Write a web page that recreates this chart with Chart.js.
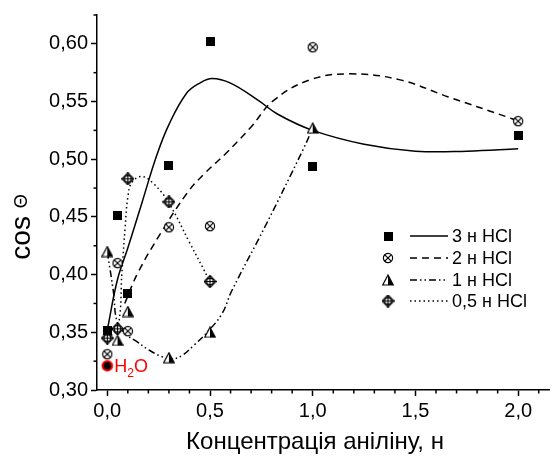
<!DOCTYPE html>
<html>
<head>
<meta charset="utf-8">
<script src="https://cdn.jsdelivr.net/npm/chart.js@4"></script>
<style>
  html, body { margin: 0; padding: 0; background: #fff; }
</style>
</head>
<body>
<canvas id="chart" width="556" height="462"></canvas>
<script>
// measured points
const xConc = [0, 0.05, 0.1, 0.3, 0.5, 1.0, 2.0];
const hcl3 = [0.352, 0.451, 0.384, 0.495, 0.602, 0.494, 0.521];
const hcl2 = [0.331, 0.410, 0.351, 0.441, 0.442, 0.597, 0.533];
const xConc1 = [0, 0.05, 0.1, 0.3, 0.5, 1.0];
const hcl1 = [0.420, 0.343, 0.368, 0.328, 0.350, 0.527];
const xConc05 = [0, 0.05, 0.1, 0.3, 0.5];
const hcl05 = [0.345, 0.353, 0.483, 0.463, 0.394];
const waterX = [0];
const waterY = [0.321];

// fitted curves
const fit3x = [0, 0.05, 0.1, 0.17, 0.24, 0.3, 0.385, 0.45, 0.51, 0.6, 0.735, 0.83, 1.0, 1.25, 1.5, 1.75, 2.0];
const fit3y = [0.352, 0.396, 0.423, 0.463, 0.503, 0.530, 0.557, 0.566, 0.570, 0.566, 0.551, 0.539, 0.525, 0.513, 0.507, 0.507, 0.509];
const fit2x = [0.085, 0.15, 0.264, 0.39, 0.47, 0.577, 0.70, 0.81, 0.99, 1.18, 1.42, 1.66, 1.94, 2.0];
const fit2y = [0.375, 0.402, 0.437, 0.471, 0.487, 0.505, 0.528, 0.551, 0.569, 0.574, 0.569, 0.554, 0.537, 0.533];
const fit1x = [0, 0.03, 0.05, 0.1, 0.135, 0.2, 0.264, 0.317, 0.365, 0.423, 0.486, 0.558, 0.606, 0.769, 0.952, 1.0];
const fit1y = [0.420, 0.385, 0.358, 0.347, 0.343, 0.335, 0.329, 0.327, 0.330, 0.339, 0.350, 0.366, 0.386, 0.442, 0.508, 0.527];
const fit05x = [0, 0.05, 0.072, 0.087, 0.1, 0.12, 0.17, 0.23, 0.3, 0.4, 0.5];
const fit05y = [0.345, 0.353, 0.404, 0.441, 0.467, 0.480, 0.485, 0.478, 0.462, 0.428, 0.394];

const labels = ['3 н HCl', '2 н HCl', '1 н HCl', '0,5 н HCl'];
const xTicks = [0, 0.5, 1.0, 1.5, 2.0];
const yTicks = [0.30, 0.35, 0.40, 0.45, 0.50, 0.55, 0.60];
const xMinor = [0.1, 0.2, 0.3, 0.4, 0.6, 0.7, 0.8, 0.9, 1.1, 1.2, 1.3, 1.4, 1.6, 1.7, 1.8, 1.9, 2.1];
const yMinor = [0.325, 0.375, 0.425, 0.475, 0.525, 0.575, 0.625];

const FONT = '"Liberation Sans", Arial, sans-serif';
const dashes = [[], [7, 5], [7, 3, 1.5, 3, 1.5, 3], [1.5, 3]];

function marker(size, draw) {
  const c = document.createElement('canvas');
  c.width = size; c.height = size;
  const g = c.getContext('2d');
  g.strokeStyle = '#000'; g.fillStyle = '#000'; g.lineWidth = 1.2;
  draw(g, size / 2);
  return c;
}

const mSquare = marker(9, g => g.fillRect(0, 0, 9, 9));
const mCircleX = marker(12, (g, m) => {
  g.beginPath(); g.arc(m, m, 4.6, 0, Math.PI * 2);
  g.fillStyle = '#fff'; g.fill(); g.stroke();
  g.beginPath();
  g.moveTo(m - 3.2, m - 3.2); g.lineTo(m + 3.2, m + 3.2);
  g.moveTo(m + 3.2, m - 3.2); g.lineTo(m - 3.2, m + 3.2);
  g.stroke();
});
const mTriangle = marker(12, (g, m) => {
  g.beginPath(); g.moveTo(m, 1); g.lineTo(11.3, 11); g.lineTo(0.7, 11); g.closePath();
  g.fillStyle = '#fff'; g.fill();
  g.beginPath(); g.moveTo(m, 1); g.lineTo(m, 11); g.lineTo(11.3, 11); g.closePath();
  g.fillStyle = '#000'; g.fill();
  g.beginPath(); g.moveTo(m, 1); g.lineTo(11.3, 11); g.lineTo(0.7, 11); g.closePath(); g.stroke();
});
const mDiamond = marker(13, (g, m) => {
  g.beginPath(); g.moveTo(m, 0.5); g.lineTo(12.5, m); g.lineTo(m, 12.5); g.lineTo(0.5, m); g.closePath();
  g.fillStyle = '#fff'; g.fill(); g.stroke();
  g.beginPath(); g.arc(m, m, 3.4, 0, Math.PI * 2); g.stroke();
  g.beginPath(); g.moveTo(m, 0.5); g.lineTo(m, 12.5); g.moveTo(0.5, m); g.lineTo(12.5, m); g.stroke();
});
const mWater = marker(13, (g, m) => {
  g.beginPath(); g.arc(m, m, 4.8, 0, Math.PI * 2);
  g.fillStyle = '#000'; g.fill();
  g.strokeStyle = '#f00'; g.lineWidth = 2; g.stroke();
});
const markers = [mSquare, mCircleX, mTriangle, mDiamond];

const pts = (xs, ys) => xs.map((v, i) => ({ x: v, y: ys[i] }));

function markerSet(label, data, style) {
  return { label, data, showLine: false, pointStyle: style, pointRadius: 6, pointHoverRadius: 6 };
}
function curveSet(label, data, dash) {
  return {
    label, data, showLine: true, pointRadius: 0, borderColor: '#000', borderWidth: 1.5,
    borderDash: dash, tension: 0.4, fill: false
  };
}

const extras = {
  id: 'extras',
  afterDraw(chart) {
    const { ctx, chartArea: a, scales: { x, y } } = chart;
    ctx.save();
    ctx.strokeStyle = '#000';
    ctx.lineWidth = 1.5;
    // minor ticks
    xMinor.forEach(v => {
      const px = x.getPixelForValue(v);
      ctx.beginPath(); ctx.moveTo(px, a.bottom); ctx.lineTo(px, a.bottom + 3.5); ctx.stroke();
    });
    yMinor.forEach(v => {
      const py = y.getPixelForValue(v);
      ctx.beginPath(); ctx.moveTo(a.left, py); ctx.lineTo(a.left - 3.5, py); ctx.stroke();
    });

    // H2O label
    const wx = x.getPixelForValue(waterX[0]) + 7;
    const wy = y.getPixelForValue(waterY[0]) + 6;
    ctx.fillStyle = '#f00';
    ctx.textBaseline = 'alphabetic';
    ctx.textAlign = 'left';
    ctx.font = '18px ' + FONT;
    ctx.fillText('H', wx, wy);
    let w = ctx.measureText('H').width;
    ctx.font = '12px ' + FONT;
    ctx.fillText('2', wx + w, wy + 5);
    w += ctx.measureText('2').width;
    ctx.font = '18px ' + FONT;
    ctx.fillText('O', wx + w, wy);

    // legend
    const lx = a.left + 291;
    const rows = [221, 243, 265, 286];
    ctx.fillStyle = '#000';
    ctx.textBaseline = 'middle';
    ctx.font = '18px ' + FONT;
    labels.forEach((t, i) => {
      const ly = a.top + rows[i];
      const m = markers[i];
      ctx.drawImage(m, lx - m.width / 2, ly - m.height / 2);
      ctx.setLineDash(dashes[i]);
      ctx.beginPath(); ctx.moveTo(lx + 22, ly); ctx.lineTo(lx + 60, ly); ctx.stroke();
      ctx.setLineDash([]);
      ctx.fillText(t, lx + 64, ly + 1);
    });

    // x axis title
    ctx.textAlign = 'center';
    ctx.textBaseline = 'alphabetic';
    ctx.font = '24px ' + FONT;
    ctx.fillText('Концентрація аніліну, н', a.left + 218, 449);

    // y axis title
    ctx.translate(30, a.top + 212);
    ctx.rotate(-Math.PI / 2);
    ctx.textAlign = 'left';
    ctx.font = '28px ' + FONT;
    const w1 = ctx.measureText('cos ').width;
    ctx.font = '18px ' + FONT;
    const w2 = ctx.measureText('Θ').width;
    ctx.font = '28px ' + FONT;
    ctx.fillText('cos ', -(w1 + w2) / 2, 0);
    ctx.font = '18px ' + FONT;
    ctx.fillText('Θ', -(w1 + w2) / 2 + w1, -3);
    ctx.restore();
  }
};

new Chart(document.getElementById('chart'), {
  type: 'scatter',
  data: {
    datasets: [
      { label: 'H2O', data: pts(waterX, waterY), showLine: false, pointStyle: mWater, pointRadius: 6 },
      markerSet(labels[0], pts(xConc, hcl3), mSquare),
      markerSet(labels[1], pts(xConc, hcl2), mCircleX),
      markerSet(labels[2], pts(xConc1, hcl1), mTriangle),
      markerSet(labels[3], pts(xConc05, hcl05), mDiamond),
      curveSet(labels[0], pts(fit3x, fit3y), dashes[0]),
      curveSet(labels[1], pts(fit2x, fit2y), dashes[1]),
      curveSet(labels[2], pts(fit1x, fit1y), dashes[2]),
      curveSet(labels[3], pts(fit05x, fit05y), dashes[3])
    ]
  },
  options: {
    responsive: false,
    animation: false,
    layout: { padding: { top: 15, right: 2, left: 0, bottom: 0 } },
    plugins: { legend: { display: false }, tooltip: { enabled: false } },
    scales: {
      x: {
        type: 'linear', min: -0.05, max: 2.15,
        afterBuildTicks: s => { s.ticks = xTicks.map(v => ({ value: v })); },
        afterFit: s => { s.height = 72; },
        ticks: {
          color: '#000', font: { size: 20, family: FONT }, padding: 3, maxRotation: 0, autoSkip: false,
          callback: v => v.toFixed(1).replace('.', ',')
        },
        grid: { display: true, drawOnChartArea: false, drawTicks: true, tickLength: 6, tickWidth: 1.5, tickColor: '#000' },
        border: { display: true, color: '#000', width: 1.5 }
      },
      y: {
        type: 'linear', min: 0.30, max: 0.625,
        afterBuildTicks: s => { s.ticks = yTicks.map(v => ({ value: v })); },
        afterFit: s => { s.width = 97; },
        ticks: {
          color: '#000', font: { size: 20, family: FONT }, padding: 3, autoSkip: false,
          callback: v => v.toFixed(2).replace('.', ',')
        },
        grid: { display: true, drawOnChartArea: false, drawTicks: true, tickLength: 6, tickWidth: 1.5, tickColor: '#000' },
        border: { display: true, color: '#000', width: 1.5 }
      }
    }
  },
  plugins: [extras]
});
</script>
</body>
</html>
